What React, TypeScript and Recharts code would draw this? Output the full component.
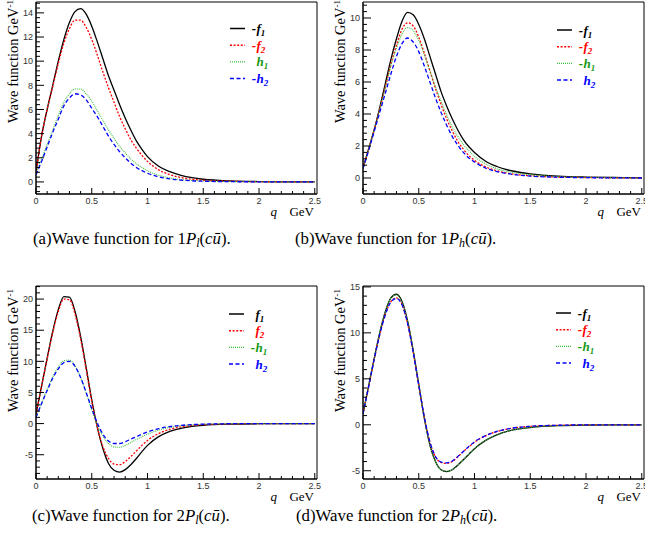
import React from "react";
import { LineChart, Line, XAxis, YAxis, ReferenceArea } from "recharts";

// q grid (GeV) shared by all four panels
const q = [
  0, 0.05, 0.1, 0.15, 0.2, 0.25, 0.3, 0.35, 0.4, 0.45, 0.5, 0.55, 0.6, 0.65, 0.7,
  0.75, 0.8, 0.85, 0.9, 0.95, 1.0, 1.1, 1.2, 1.3, 1.4, 1.5, 1.75, 2.0, 2.25, 2.5,
];

// (a) 1P_l
const aF1 = [0.8, 3.8, 6.0, 8.0, 10.0, 11.8, 13.2, 14.1, 14.35, 13.9, 12.9, 11.6, 10.2, 8.8, 7.6, 6.4, 5.3, 4.3, 3.4, 2.7, 2.1, 1.3, 0.85, 0.55, 0.35, 0.22, 0.08, 0.03, 0.01, 0];
const aF2 = [0.8, 3.8, 6.0, 7.9, 9.8, 11.5, 12.7, 13.4, 13.4, 12.8, 11.8, 10.5, 9.1, 7.8, 6.6, 5.4, 4.4, 3.5, 2.8, 2.2, 1.7, 1.0, 0.6, 0.36, 0.22, 0.14, 0.05, 0.02, 0.01, 0];
const aH1 = [0.7, 1.9, 3.1, 4.3, 5.5, 6.6, 7.3, 7.7, 7.7, 7.3, 6.7, 5.9, 5.1, 4.3, 3.6, 2.95, 2.4, 1.9, 1.5, 1.2, 0.92, 0.55, 0.33, 0.2, 0.12, 0.08, 0.03, 0.01, 0, 0];
const aH2 = [0.6, 1.7, 2.9, 4.1, 5.2, 6.3, 6.95, 7.3, 7.2, 6.8, 6.1, 5.4, 4.6, 3.8, 3.1, 2.5, 2.0, 1.55, 1.2, 0.93, 0.72, 0.42, 0.25, 0.15, 0.09, 0.06, 0.02, 0.01, 0, 0];

// (b) 1P_h
const bF1 = [0.6, 1.8, 3.0, 4.4, 5.9, 7.4, 8.7, 9.8, 10.35, 10.2, 9.6, 8.7, 7.6, 6.5, 5.4, 4.5, 3.7, 3.0, 2.4, 1.95, 1.6, 1.05, 0.72, 0.5, 0.36, 0.26, 0.12, 0.06, 0.03, 0.01];
const bF2 = [0.6, 1.8, 3.0, 4.3, 5.7, 7.1, 8.3, 9.3, 9.7, 9.5, 8.8, 7.8, 6.7, 5.6, 4.6, 3.7, 2.95, 2.3, 1.8, 1.4, 1.1, 0.7, 0.45, 0.3, 0.2, 0.14, 0.06, 0.03, 0.01, 0];
const bH1 = [0.6, 1.8, 3.0, 4.3, 5.6, 7.0, 8.1, 9.0, 9.4, 9.2, 8.6, 7.7, 6.7, 5.7, 4.8, 3.95, 3.2, 2.6, 2.1, 1.7, 1.35, 0.88, 0.58, 0.4, 0.28, 0.2, 0.09, 0.04, 0.02, 0.01];
const bH2 = [0.6, 1.7, 2.9, 4.1, 5.3, 6.5, 7.6, 8.4, 8.75, 8.5, 7.9, 7.0, 6.0, 5.0, 4.1, 3.3, 2.6, 2.05, 1.6, 1.25, 1.0, 0.62, 0.4, 0.27, 0.18, 0.12, 0.05, 0.02, 0.01, 0];

// (c) 2P_l
const cF1 = [1.5, 6.0, 10.5, 14.8, 18.3, 20.4, 20.3, 18.0, 14.0, 9.0, 3.8, -0.6, -4.0, -6.4, -7.5, -7.8, -7.4, -6.6, -5.6, -4.5, -3.5, -2.1, -1.25, -0.75, -0.45, -0.27, -0.08, -0.02, -0.01, 0];
const cF2 = [1.5, 6.0, 10.4, 14.6, 18.0, 20.0, 19.9, 17.6, 13.6, 8.7, 3.6, -0.6, -3.7, -5.6, -6.5, -6.6, -6.1, -5.3, -4.4, -3.5, -2.7, -1.6, -0.92, -0.52, -0.3, -0.17, -0.05, -0.01, 0, 0];
const cH1 = [1.0, 3.3, 5.5, 7.5, 9.1, 10.1, 10.2, 9.3, 7.4, 4.9, 2.2, -0.2, -2.0, -3.2, -3.75, -3.8, -3.5, -3.05, -2.55, -2.1, -1.7, -1.05, -0.62, -0.36, -0.2, -0.11, -0.03, -0.01, 0, 0];
const cH2 = [1.0, 3.2, 5.3, 7.3, 8.8, 9.8, 10.0, 9.2, 7.4, 5.0, 2.4, 0.1, -1.7, -2.8, -3.2, -3.2, -2.9, -2.5, -2.1, -1.7, -1.35, -0.82, -0.48, -0.28, -0.16, -0.09, -0.02, 0, 0, 0];

// (d) 2P_h
const dF1 = [1.2, 4.2, 7.2, 10.0, 12.3, 13.8, 14.2, 13.4, 11.3, 8.1, 4.4, 0.7, -2.2, -4.0, -4.9, -5.1, -4.9, -4.4, -3.8, -3.2, -2.6, -1.7, -1.1, -0.7, -0.45, -0.3, -0.1, -0.03, -0.01, 0];
const dF2 = [1.2, 4.1, 7.1, 9.8, 12.0, 13.4, 13.8, 13.1, 11.0, 7.9, 4.3, 0.8, -1.9, -3.5, -4.1, -4.2, -4.0, -3.5, -2.9, -2.4, -1.9, -1.2, -0.75, -0.45, -0.28, -0.17, -0.05, -0.01, 0, 0];
const dH1 = [1.2, 4.2, 7.2, 10.0, 12.3, 13.75, 14.15, 13.35, 11.3, 8.1, 4.4, 0.7, -2.2, -4.0, -4.9, -5.05, -4.9, -4.4, -3.8, -3.2, -2.6, -1.7, -1.1, -0.7, -0.45, -0.3, -0.1, -0.03, -0.01, 0];
const dH2 = [1.2, 4.1, 7.1, 9.8, 11.95, 13.35, 13.75, 13.05, 11.0, 7.9, 4.3, 0.85, -1.85, -3.45, -4.05, -4.15, -3.95, -3.45, -2.9, -2.35, -1.85, -1.18, -0.73, -0.44, -0.27, -0.16, -0.05, -0.01, 0, 0];

// axis labels
const xLabels = [0, 0.5, 1, 1.5, 2, 2.5];
const aYLabels = [0, 2, 4, 6, 8, 10, 12, 14];
const bYLabels = [0, 2, 4, 6, 8, 10];
const cYLabels = [-5, 0, 5, 10, 15, 20];
const dYLabels = [-5, 0, 5, 10, 15];

function range(start: number, stop: number, step: number) {
  const out: number[] = [];
  const n = Math.round((stop - start) / step);
  for (let i = 0; i <= n; i++) out.push(Math.round((start + i * step) * 1000) / 1000);
  return out;
}

const X_MAX = 2.52;
const xTicks = range(0, 2.5, 0.1);

const STYLES: Record<string, { stroke: string; text: string; dash?: string; width: number }> = {
  f1: { stroke: "#000000", text: "#000000", width: 1.3 },
  f2: { stroke: "#ff0000", text: "#ff0000", dash: "2 1.6", width: 1.3 },
  h1: { stroke: "#3cbf3c", text: "#169a16", dash: "1 1", width: 1.1 },
  h2: { stroke: "#0000ff", text: "#0000ff", dash: "4 2.5", width: 1.3 },
};

const SANS = "'Liberation Sans', Arial, Helvetica, sans-serif";
const SERIF = "'Liberation Serif', 'Times New Roman', Times, serif";

function near(list: number[], v: number) {
  return list.some((m) => Math.abs(m - v) < 1e-6);
}

function XTick(props: any) {
  const { x, y, payload } = props;
  const v = payload.value as number;
  const major = near(xLabels, v);
  return (
    <g>
      <line x1={x} x2={x} y1={y} y2={y - (major ? 6 : 3)} stroke="#000" strokeWidth={1} />
      {major && (
        <text x={x} y={y + 10} textAnchor="middle" fontSize={9} fontFamily={SANS} fill="#333">
          {String(v)}
        </text>
      )}
    </g>
  );
}

function makeYTick(labels: number[]) {
  return function YTick(props: any) {
    const { x, y, payload } = props;
    const v = payload.value as number;
    const major = near(labels, v);
    return (
      <g>
        <line x1={x} x2={x + (major ? 8 : 4)} y1={y} y2={y} stroke="#000" strokeWidth={1} />
        {major && (
          <text x={x - 3} y={y + 3.2} textAnchor="end" fontSize={9} fontFamily={SANS} fill="#333">
            {String(v)}
          </text>
        )}
      </g>
    );
  };
}

type Entry = { key: string; sign: string; letter: string; sub: string };

type PanelProps = {
  left: number;
  top: number;
  bottomMargin: number;
  series: Record<string, number[]>;
  yDomain: [number, number];
  yLabels: number[];
  yMinor: number[];
};

function Panel({ left, top, bottomMargin, series, yDomain, yLabels, yMinor }: PanelProps) {
  const rows = q.map((x, i) => {
    const r: Record<string, number> = { q: x };
    Object.keys(series).forEach((k) => (r[k] = series[k][i]));
    return r;
  });
  const YTick = makeYTick(yLabels);
  return (
    <div style={{ position: "absolute", left, top }}>
      <LineChart width={330} height={230} data={rows} margin={{ top: 2, right: 13, left: 0, bottom: bottomMargin }}>
        <XAxis
          dataKey="q"
          type="number"
          domain={[0, X_MAX]}
          ticks={xTicks}
          interval={0}
          allowDataOverflow
          height={20}
          tickLine={false}
          tickSize={0}
          tickMargin={0}
          axisLine={{ stroke: "#000" }}
          tick={<XTick />}
        />
        <YAxis
          type="number"
          domain={yDomain}
          ticks={yMinor}
          interval={0}
          allowDataOverflow
          width={36}
          tickLine={false}
          tickSize={0}
          tickMargin={0}
          axisLine={{ stroke: "#000" }}
          tick={<YTick />}
        />
        {Object.keys(series).map((k) => (
          <Line
            key={k}
            dataKey={k}
            type="monotone"
            dot={false}
            stroke={STYLES[k].stroke}
            strokeWidth={STYLES[k].width}
            strokeDasharray={STYLES[k].dash}
            isAnimationActive={false}
          />
        ))}
        <ReferenceArea
          x1={0}
          x2={X_MAX}
          y1={yDomain[0]}
          y2={yDomain[1]}
          fill="none"
          fillOpacity={0}
          stroke="#000"
          strokeWidth={1}
          ifOverflow="visible"
        />
      </LineChart>
    </div>
  );
}

function LegendBox({ x, y, items }: { x: number; y: number; items: Entry[] }) {
  return (
    <g>
      {items.map((it, i) => {
        const cy = y + i * 16.7;
        const s = STYLES[it.key];
        return (
          <g key={it.key}>
            <line x1={x} x2={x + 15} y1={cy} y2={cy} stroke={s.stroke} strokeWidth={s.width + 0.2} strokeDasharray={s.dash} />
            {it.sign && (
              <text x={x + 26} y={cy + 4.5} textAnchor="end" fontFamily={SERIF} fontStyle="italic" fontWeight="bold" fontSize={13} fill={s.text}>
                {it.sign}
              </text>
            )}
            <text x={x + 26.5} y={cy + 4.5} fontFamily={SERIF} fontStyle="italic" fontWeight="bold" fontSize={13} fill={s.text}>
              {it.letter}
              <tspan dy={3} fontSize={9}>{it.sub}</tspan>
            </text>
          </g>
        );
      })}
    </g>
  );
}

function AxisTitles({ plotLeft, plotRight, plotBottom, titleEnd }: { plotLeft: number; plotRight: number; plotBottom: number; titleEnd: number }) {
  return (
    <g>
      <text transform={`translate(${plotLeft - 18},${titleEnd}) rotate(-90)`} textAnchor="end" fontFamily={SERIF} fontSize={14.5} fill="#000">
        Wave function GeV<tspan dy={-5} fontSize={9}>-1</tspan>
      </text>
      <text x={plotRight - 40} y={plotBottom + 22} textAnchor="end" fontFamily={SERIF} fontStyle="italic" fontSize={13}>
        q
      </text>
      <text x={plotRight - 3} y={plotBottom + 22} textAnchor="end" fontFamily={SERIF} fontSize={13}>
        GeV
      </text>
    </g>
  );
}

function Caption({ left, top, label, n, sub }: { left: number; top: number; label: string; n: string; sub: string }) {
  return (
    <div style={{ position: "absolute", left, top, fontFamily: SERIF, fontSize: 16.8, lineHeight: "20px", whiteSpace: "nowrap", color: "#000" }}>
      ({label})Wave function for {n}
      <i>P</i>
      <sub style={{ fontSize: 12, fontStyle: "italic", verticalAlign: "-3px", lineHeight: 0 }}>{sub}</sub>(<i>cū</i>).
    </div>
  );
}

export default function App() {
  return (
    <div style={{ position: "absolute", left: 0, top: 0, width: 645, height: 546, overflow: "hidden", background: "#fff" }}>
      <Panel left={0} top={0} bottomMargin={16} series={{ f1: aF1, f2: aF2, h1: aH1, h2: aH2 }} yDomain={[-1, 14.9]} yLabels={aYLabels} yMinor={range(-0.8, 14.8, 0.4)} />
      <Panel left={327} top={0} bottomMargin={16} series={{ f1: bF1, f2: bF2, h1: bH1, h2: bH2 }} yDomain={[-1, 11]} yLabels={bYLabels} yMinor={range(-0.8, 10.8, 0.4)} />
      <Panel left={0} top={284} bottomMargin={15} series={{ f1: cF1, f2: cF2, h1: cH1, h2: cH2 }} yDomain={[-8.9, 22.1]} yLabels={cYLabels} yMinor={range(-8, 22, 1)} />
      <Panel left={327} top={284} bottomMargin={15} series={{ f1: dF1, f2: dF2, h1: dH1, h2: dH2 }} yDomain={[-5.9, 15.1]} yLabels={dYLabels} yMinor={range(-5, 15, 1)} />

      <svg width={645} height={546} style={{ position: "absolute", left: 0, top: 0, pointerEvents: "none" }}>
        <AxisTitles plotLeft={36} plotRight={317} plotBottom={194} titleEnd={0} />
        <AxisTitles plotLeft={363} plotRight={644} plotBottom={194} titleEnd={0} />
        <AxisTitles plotLeft={36} plotRight={317} plotBottom={479} titleEnd={289} />
        <AxisTitles plotLeft={363} plotRight={644} plotBottom={479} titleEnd={289} />

        <LegendBox x={230} y={28.5} items={[
          { key: "f1", sign: "-", letter: "f", sub: "1" },
          { key: "f2", sign: "-", letter: "f", sub: "2" },
          { key: "h1", sign: "", letter: "h", sub: "1" },
          { key: "h2", sign: "-", letter: "h", sub: "2" },
        ]} />
        <LegendBox x={557} y={30} items={[
          { key: "f1", sign: "-", letter: "f", sub: "1" },
          { key: "f2", sign: "-", letter: "f", sub: "2" },
          { key: "h1", sign: "-", letter: "h", sub: "1" },
          { key: "h2", sign: "", letter: "h", sub: "2" },
        ]} />
        <LegendBox x={229} y={314} items={[
          { key: "f1", sign: "", letter: "f", sub: "1" },
          { key: "f2", sign: "", letter: "f", sub: "2" },
          { key: "h1", sign: "-", letter: "h", sub: "1" },
          { key: "h2", sign: "", letter: "h", sub: "2" },
        ]} />
        <LegendBox x={556} y={313} items={[
          { key: "f1", sign: "-", letter: "f", sub: "1" },
          { key: "f2", sign: "-", letter: "f", sub: "2" },
          { key: "h1", sign: "-", letter: "h", sub: "1" },
          { key: "h2", sign: "", letter: "h", sub: "2" },
        ]} />
      </svg>

      <Caption left={33} top={229} label="a" n="1" sub="l" />
      <Caption left={295} top={229} label="b" n="1" sub="h" />
      <Caption left={32} top={506} label="c" n="2" sub="l" />
      <Caption left={296} top={506} label="d" n="2" sub="h" />
    </div>
  );
}
